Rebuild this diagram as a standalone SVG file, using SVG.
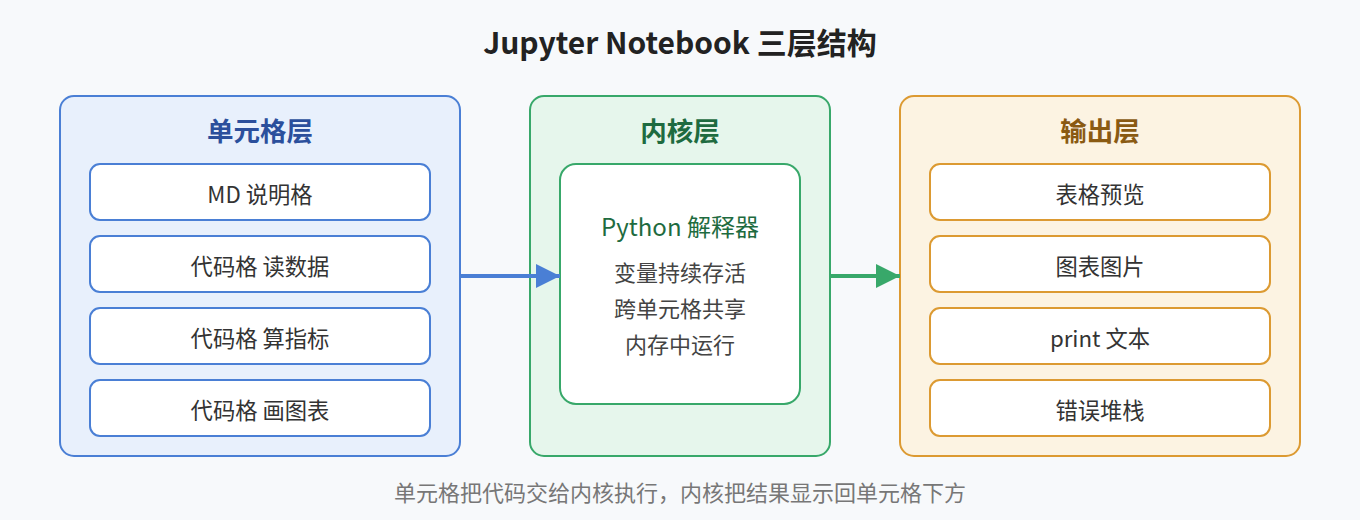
<svg xmlns="http://www.w3.org/2000/svg" width="1360" height="520" viewBox="0 0 1360 520">
<defs>
<marker id="ahB" viewBox="0 0 24 24" refX="24" refY="12" markerWidth="24" markerHeight="24" markerUnits="userSpaceOnUse" orient="auto"><path d="M0,0 L24,12 L0,24 Z" fill="#4a7fd5"/></marker>
<marker id="ahG" viewBox="0 0 24 24" refX="24" refY="12" markerWidth="24" markerHeight="24" markerUnits="userSpaceOnUse" orient="auto"><path d="M0,0 L24,12 L0,24 Z" fill="#38a86a"/></marker>
</defs>
<style>
text{font-family:"Noto Sans CJK SC","Microsoft YaHei",sans-serif;text-anchor:middle}
.title{font-size:30px;font-weight:bold;fill:#222}
.ptitle{font-size:26.5px;font-weight:bold}
.item{font-size:22.3px;fill:#333}
.sub{font-size:22px;fill:#444}
.foot{font-size:22px;fill:#777}
.pb{fill:#e8f0fc;stroke:#4a7fd5;stroke-width:2}
.pg{fill:#e6f6ec;stroke:#38a86a;stroke-width:2}
.po{fill:#fcf3e2;stroke:#dc9a32;stroke-width:2}
.ib{fill:#fff;stroke:#4a7fd5;stroke-width:2}
.ig{fill:#fff;stroke:#38a86a;stroke-width:2}
.io{fill:#fff;stroke:#dc9a32;stroke-width:2}
</style>
<rect width="1360" height="520" fill="#f7f9fb"/>
<text class="title" x="680" y="54">Jupyter Notebook 三层结构</text>
<g id="cells">
<rect class="pb" x="60" y="96" width="400" height="360" rx="14"/>
<text class="ptitle" x="260" y="141" fill="#2b4f9c">单元格层</text>
<g id="cell-md"><rect class="ib" x="90" y="164" width="340" height="56" rx="10"/><text class="item" x="260" y="203">MD 说明格</text></g>
<g id="cell-read"><rect class="ib" x="90" y="236" width="340" height="56" rx="10"/><text class="item" x="260" y="275">代码格 读数据</text></g>
<g id="cell-calc"><rect class="ib" x="90" y="308" width="340" height="56" rx="10"/><text class="item" x="260" y="347">代码格 算指标</text></g>
<g id="cell-plot"><rect class="ib" x="90" y="380" width="340" height="56" rx="10"/><text class="item" x="260" y="419">代码格 画图表</text></g>
</g>
<g id="kernel">
<rect class="pg" x="530" y="96" width="300" height="360" rx="14"/>
<text class="ptitle" x="680" y="141" fill="#1e6b40">内核层</text>
<g id="interpreter">
<rect class="ig" x="560" y="164" width="240" height="240" rx="16"/>
<text x="680" y="236" font-size="24" fill="#1e6b40">Python 解释器</text>
<text class="sub" x="680" y="281">变量持续存活</text>
<text class="sub" x="680" y="317">跨单元格共享</text>
<text class="sub" x="680" y="353">内存中运行</text>
</g>
</g>
<g id="output">
<rect class="po" x="900" y="96" width="400" height="360" rx="14"/>
<text class="ptitle" x="1100" y="141" fill="#8a5a12">输出层</text>
<g id="out-table"><rect class="io" x="930" y="164" width="340" height="56" rx="10"/><text class="item" x="1100" y="203">表格预览</text></g>
<g id="out-chart"><rect class="io" x="930" y="236" width="340" height="56" rx="10"/><text class="item" x="1100" y="275">图表图片</text></g>
<g id="out-print"><rect class="io" x="930" y="308" width="340" height="56" rx="10"/><text class="item" x="1100" y="347">print 文本</text></g>
<g id="out-error"><rect class="io" x="930" y="380" width="340" height="56" rx="10"/><text class="item" x="1100" y="419">错误堆栈</text></g>
</g>
<g id="connectors">
<line x1="461" y1="276" x2="560" y2="276" stroke="#4a7fd5" stroke-width="4" marker-end="url(#ahB)"/>
<line x1="831" y1="276" x2="900" y2="276" stroke="#38a86a" stroke-width="4" marker-end="url(#ahG)"/>
</g>
<text class="foot" x="680" y="501">单元格把代码交给内核执行，内核把结果显示回单元格下方</text>
</svg>
